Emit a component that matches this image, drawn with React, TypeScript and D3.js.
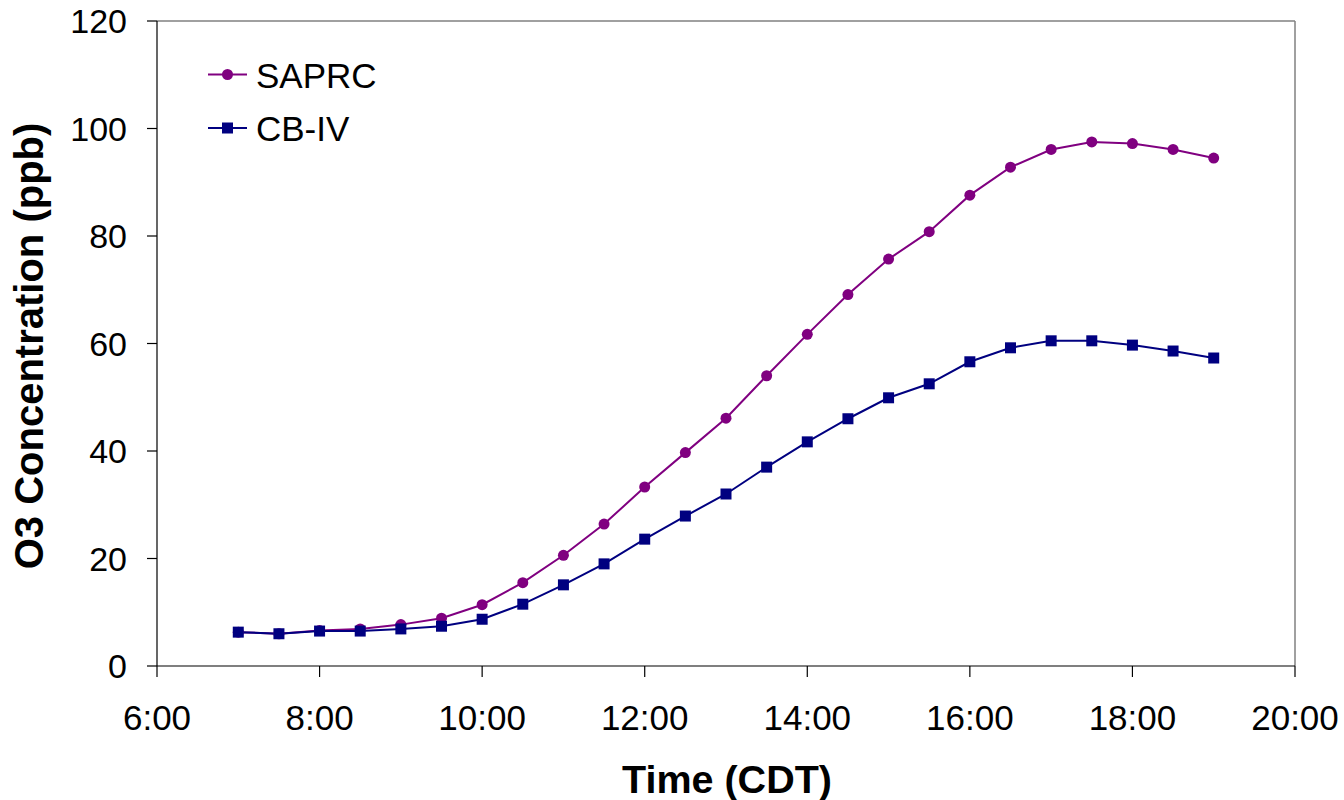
import React from "react";
import * as d3 from "d3";

const hours = [7, 7.5, 8, 8.5, 9, 9.5, 10, 10.5, 11, 11.5, 12, 12.5, 13, 13.5, 14, 14.5, 15, 15.5, 16, 16.5, 17, 17.5, 18, 18.5, 19];
const saprc = [6.3, 6.0, 6.6, 6.9, 7.7, 8.9, 11.4, 15.5, 20.6, 26.4, 33.3, 39.7, 46.1, 54.0, 61.7, 69.1, 75.7, 80.8, 87.6, 92.8, 96.1, 97.5, 97.2, 96.1, 94.5];
const cbiv = [6.3, 6.0, 6.5, 6.5, 6.9, 7.4, 8.7, 11.5, 15.1, 19.0, 23.6, 27.9, 32.0, 37.0, 41.7, 46.0, 49.9, 52.5, 56.6, 59.2, 60.5, 60.5, 59.7, 58.6, 57.3];
const xTicks = [6, 8, 10, 12, 14, 16, 18, 20];
const xTickLabels = ["6:00", "8:00", "10:00", "12:00", "14:00", "16:00", "18:00", "20:00"];
const yTicks = [0, 20, 40, 60, 80, 100, 120];
const seriesNames = ["SAPRC", "CB-IV"];

const W = 1344, H = 800;
const L = 157, R = 1295, T = 21, B = 666;
const font = "Liberation Sans, Arial, sans-serif";

export default function App() {
  const x = d3.scaleLinear().domain([6, 20]).range([L, R]);
  const y = d3.scaleLinear().domain([0, 120]).range([B, T]);
  const line = d3.line<number>().x((_, i) => x(hours[i])).y((v) => y(v));
  const purple = "#800080", navy = "#000080";
  return (
    <svg width={W} height={H} style={{ position: "absolute", left: 0, top: 0, background: "#fff" }}>
      {/* frame */}
      <line x1={L} x2={R} y1={T} y2={T} stroke="#808080" strokeWidth={1.5} />
      <line x1={R} x2={R} y1={T} y2={B} stroke="#808080" strokeWidth={1.5} />
      <line x1={L} x2={R} y1={B} y2={B} stroke="#000" strokeWidth={1.2} />
      <line x1={L} x2={L} y1={T} y2={B} stroke="#000" strokeWidth={1.2} />
      {yTicks.map((t) => (
        <g key={"y" + t}>
          <line x1={L - 10} x2={L} y1={y(t)} y2={y(t)} stroke="#000" strokeWidth={1.2} />
          <text x={127} y={y(t)} dy="0.36em" textAnchor="end" fontFamily={font} fontSize={34}>{t}</text>
        </g>
      ))}
      {xTicks.map((t, i) => (
        <g key={"x" + t}>
          <line x1={x(t)} x2={x(t)} y1={B} y2={B + 11} stroke="#000" strokeWidth={1.2} />
          <text x={x(t)} y={730} textAnchor="middle" fontFamily={font} fontSize={35}>{xTickLabels[i]}</text>
        </g>
      ))}
      <text x={727} y={793} textAnchor="middle" fontFamily={font} fontSize={39.5} fontWeight="bold">Time (CDT)</text>
      <text transform={`translate(43,346) rotate(-90)`} textAnchor="middle" fontFamily={font} fontSize={40} fontWeight="bold">O3 Concentration (ppb)</text>
      <path d={line(saprc) || ""} fill="none" stroke={purple} strokeWidth={2} />
      <path d={line(cbiv) || ""} fill="none" stroke={navy} strokeWidth={2} />
      {saprc.map((v, i) => (
        <circle key={"s" + i} cx={x(hours[i])} cy={y(v)} r={5.5} fill={purple} />
      ))}
      {cbiv.map((v, i) => (
        <rect key={"c" + i} x={x(hours[i]) - 5.5} y={y(v) - 5.5} width={11} height={11} fill={navy} />
      ))}
      {/* legend */}
      <g>
        <line x1={208} x2={247} y1={74.5} y2={74.5} stroke={purple} strokeWidth={2} />
        <circle cx={227.5} cy={74.5} r={5.5} fill={purple} />
        <text x={256} y={75} dy="0.36em" fontFamily={font} fontSize={35}>{seriesNames[0]}</text>
        <line x1={208} x2={247} y1={128} y2={128} stroke={navy} strokeWidth={2} />
        <rect x={222} y={122.5} width={11} height={11} fill={navy} />
        <text x={256} y={128} dy="0.36em" fontFamily={font} fontSize={35}>{seriesNames[1]}</text>
      </g>
    </svg>
  );
}
